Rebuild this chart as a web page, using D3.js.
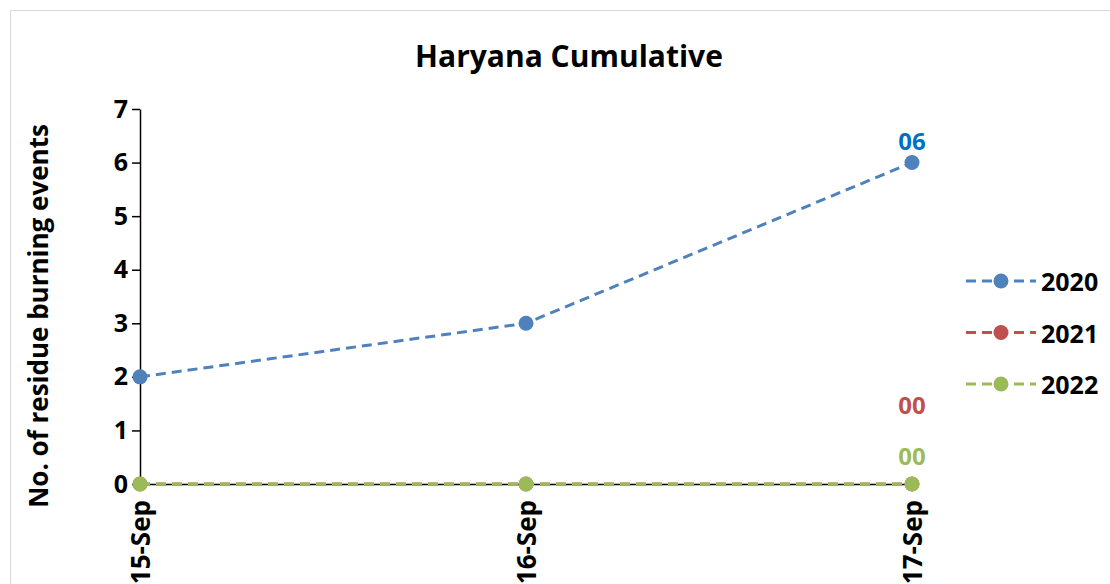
<!DOCTYPE html>
<html>
<head>
<meta charset="utf-8">
<script src="https://cdn.jsdelivr.net/npm/d3@7"></script>
<style>
  body { margin: 0; background: #fff; }
  svg { display: block; font-family: "Open Sans", sans-serif; font-weight: bold; }
</style>
</head>
<body>
<svg></svg>
<script>
var categories = ["15-Sep", "16-Sep", "17-Sep"];
var years = ["2020", "2021", "2022"];
var values2020 = [2, 3, 6];
var values2021 = [0, 0, 0];
var values2022 = [0, 0, 0];
var yTicks = [0, 1, 2, 3, 4, 5, 6, 7];
var lastLabels = ["06", "00", "00"];

var colors = ["#4f81bd", "#c0504d", "#9bbb59"];
var labelColors = ["#0070c0", "#c0504d", "#9bbb59"];
var labelOffsets = [-22, -80, -29];

svgWidth = 1110;
svgHeight = 584;
var margin = {top: 109, right: 198, bottom: 100, left: 140};
var scale = {};

var series = [values2020, values2021, values2022].map(function(v, i){
  return {name: years[i], color: colors[i], values: v.map(function(d, j){ return {x: categories[j], y: d}; })};
});

var svg = d3.select("svg")
    .attr('width', svgWidth)
    .attr('height', svgHeight);

// chart border
svg.append('rect')
    .attr('x', 10.5).attr('y', 10.5)
    .attr('width', 1200).attr('height', 700)
    .attr('fill', 'none')
    .attr('stroke', '#d9d9d9');

svg.append('text')
    .attr('x', 569).attr('y', 67)
    .attr('text-anchor', 'middle')
    .attr('font-size', 30)
    .attr('fill', '#000')
    .text("Haryana Cumulative");

var g = svg.append('g')
    .attr('transform', translate(margin.left, margin.top));

setScale();
drawAxis();
drawSeries();
drawLegend();

function setScale(){
  scale.x = d3.scalePoint()
      .domain(categories)
      .range([0, 772]);
  scale.y = d3.scaleLinear()
      .domain([0, 7])
      .range([375, 0]);
}

function drawAxis(){
  var yAxis = g.append('g')
      .attr('class', 'y_axis')
      .call(d3.axisLeft(scale.y).tickValues(yTicks).tickFormat(d3.format('d'))
        .tickSize(8).tickSizeOuter(0).tickPadding(4));
  yAxis.select('.domain').attr('stroke', '#000').attr('stroke-width', 1.5);
  yAxis.selectAll('.tick line').attr('stroke', '#000').attr('stroke-width', 1.5);
  yAxis.selectAll('.tick text')
      .attr('font-size', 25).attr('font-family', '"Open Sans", sans-serif')
      .attr('font-weight', 'bold').attr('fill', '#000');

  var xAxis = g.append('g')
      .attr('class', 'x_axis')
      .attr('transform', translate(0, scale.y(0)))
      .call(d3.axisBottom(scale.x).tickSize(8).tickSizeOuter(0).tickPadding(0));
  xAxis.select('.domain').attr('stroke', '#000').attr('stroke-width', 1.5);
  xAxis.selectAll('.tick line').attr('stroke', '#000').attr('stroke-width', 1.5)
      .attr('y1', -4).attr('y2', 5);
  xAxis.selectAll('.tick text')
      .attr('font-size', 26).attr('font-family', '"Open Sans", sans-serif')
      .attr('font-weight', 'bold').attr('fill', '#000')
      .attr('text-anchor', 'end')
      .attr('dy', '0.35em')
      .attr('transform', 'translate(0,16) rotate(-90)')
      .attr('y', 0).attr('x', 0);

  svg.append('text')
      .attr('transform', translate(38, 316) + ' rotate(-90)')
      .attr('text-anchor', 'middle')
      .attr('dominant-baseline', 'central')
      .attr('font-size', 26)
      .attr('fill', '#000')
      .text("No. of residue burning events");
}

function drawSeries(){
  var line = d3.line()
      .x(function(d){ return scale.x(d.x); })
      .y(function(d){ return scale.y(d.y); });

  series.forEach(function(s, i){
    g.append('path')
        .datum(s.values)
        .attr('d', line)
        .attr('fill', 'none')
        .attr('stroke', s.color)
        .attr('stroke-width', 3)
        .attr('stroke-dasharray', '10,6');
    g.selectAll('circle.s' + i)
        .data(s.values)
        .enter()
        .append('circle')
        .attr('class', 's' + i)
        .attr('cx', function(d){ return scale.x(d.x); })
        .attr('cy', function(d){ return scale.y(d.y); })
        .attr('r', 7.5)
        .attr('fill', s.color);
    var last = s.values[s.values.length - 1];
    g.append('text')
        .attr('x', scale.x(last.x))
        .attr('y', scale.y(last.y) + labelOffsets[i])
        .attr('text-anchor', 'middle')
        .attr('dominant-baseline', 'central')
        .attr('font-size', 24)
        .attr('fill', labelColors[i])
        .text(lastLabels[i]);
  });
}

function drawLegend(){
  var leg = svg.append('g');
  series.forEach(function(s, i){
    var y = 281 + i * 51.5;
    leg.append('line')
        .attr('x1', 966).attr('x2', 1036)
        .attr('y1', y).attr('y2', y)
        .attr('stroke', s.color).attr('stroke-width', 3)
        .attr('stroke-dasharray', '10,6');
    leg.append('circle')
        .attr('cx', 1001).attr('cy', y).attr('r', 7.5)
        .attr('fill', s.color);
    leg.append('text')
        .attr('x', 1041).attr('y', y)
        .attr('dominant-baseline', 'central')
        .attr('font-size', 25)
        .attr('fill', '#000')
        .text(s.name);
  });
}

function translate(x, y) {
    return 'translate(' + x + ',' + y + ')';
}
</script>
</body>
</html>
